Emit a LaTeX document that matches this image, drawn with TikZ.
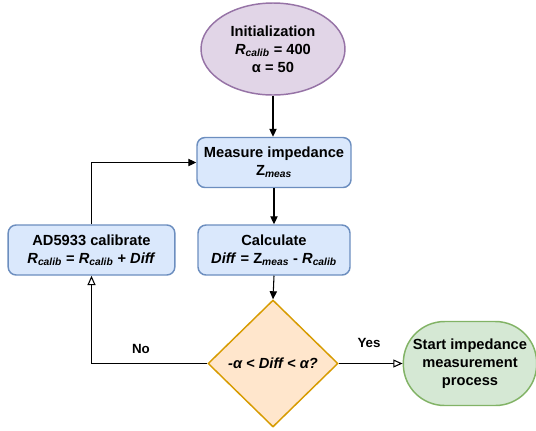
\documentclass[tikz,border=0pt]{standalone}
\usepackage{fontspec}
\setmainfont{Liberation Sans}
\usetikzlibrary{shapes.geometric,arrows.meta}
\definecolor{fblue}{HTML}{DAE8FC}
\definecolor{sblue}{HTML}{6C8EBF}
\definecolor{fpurp}{HTML}{E1D5E7}
\definecolor{spurp}{HTML}{9673A6}
\definecolor{forange}{HTML}{FFE6CC}
\definecolor{sorange}{HTML}{D79B00}
\definecolor{fgreen}{HTML}{D5E8D4}
\definecolor{sgreen}{HTML}{82B366}
\newcommand\Rcal{\textit{R}\textsubscript{\textit{calib}}}
\newcommand\Zmeas{Z\textsubscript{\textit{meas}}}
\begin{document}
\begin{tikzpicture}[x=0.75pt,y=-0.75pt,
  font=\fontsize{11}{13.5}\selectfont\bfseries,
  every node/.style={align=center, inner sep=0pt},
  procbox/.style={draw=sblue, fill=fblue, rounded corners=6pt, line width=1.1pt, minimum height=37.5pt},
  initell/.style={ellipse, draw=spurp, fill=fpurp, line width=1.1pt, minimum width=108pt, minimum height=69pt},
  decis/.style={diamond, draw=sorange, fill=forange, line width=1.1pt, minimum width=97.5pt, minimum height=95.25pt},
  termbox/.style={draw=sgreen, fill=fgreen, rounded corners=31pt, line width=1.1pt, minimum width=100pt, minimum height=63pt},
  arr/.style={-{Triangle[length=6pt,width=5.5pt]}, line width=0.8pt},
  oarr/.style={-{Triangle[open,fill=white,length=7pt,width=6pt]}, line width=0.8pt},
  lbl/.style={font=\fontsize{10}{12}\selectfont\bfseries}
]
\useasboundingbox (0,0) rectangle (536,430);
\node[initell] (ini) at (273,49) {Initialization\\ \Rcal{} = 400\\ α = 50};
\node[procbox, minimum width=115.5pt] (meas) at (274,162.5) {Measure impedance\\ \Zmeas};
\node[procbox, minimum width=114pt] (calc) at (274,250) {Calculate\\ \textit{Diff} = \Zmeas{} - \Rcal};
\node[procbox, minimum width=125pt] (ad) at (91.5,250) {AD5933 calibrate\\ \Rcal{} = \Rcal{} + \textit{Diff}};
\node[decis] (dia) at (273,363.5) {};
\node (diatext) at (dia.center) {\textit{-α < Diff < α?}};
\node[termbox] (term) at (470,363.5) {Start impedance\\ measurement\\ process};
\draw[arr] (ini.south) -- (ini.south |- meas.north);
\draw[arr] (meas.south) -- (calc.north);
\draw[arr] (calc.south) -- (dia.north);
\draw[arr] (ad.north) |- (meas.west);
\draw[oarr] (dia.west) -| (ad.south);
\draw[oarr] (dia.east) -- (term.west);
\node[lbl] (no) at (141,349) {No};
\node[lbl] (yes) at (369,343) {Yes};
\end{tikzpicture}
\end{document}
